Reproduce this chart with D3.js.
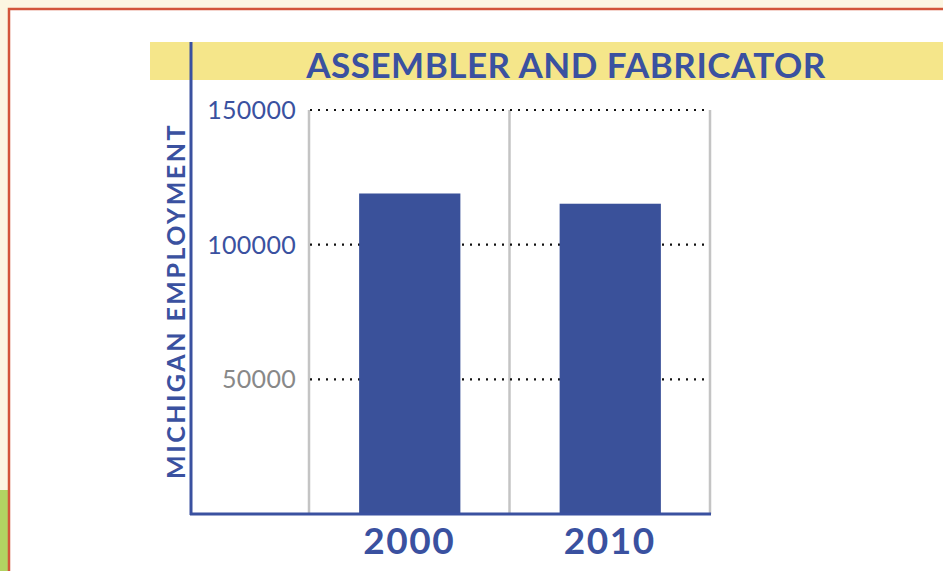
<!DOCTYPE html>
<html>
<head>
<meta charset="utf-8">
<script src="https://cdn.jsdelivr.net/npm/d3@7"></script>
<style>
  body { margin: 0; background: #fcf6e1; }
  svg { display: block; }
</style>
</head>
<body>
<div id="chart"></div>
<script>
// chart data
var years = ['2000', '2010'];
var employment = [119000, 115200];
var yTicks = [50000, 100000, 150000];
var tickColors = ['#888888', '#3a51a0', '#3a51a0'];

var W = 943, H = 571;
var blue = '#3a51a0';
var font = 'Lato, "Open Sans", sans-serif';

var svg = d3.select('#chart').append('svg')
    .attr('width', W)
    .attr('height', H);

// page frame
svg.append('rect').attr('x', 0).attr('y', 0).attr('width', W).attr('height', H).style('fill', '#fcf6e1');
svg.append('rect').attr('x', 0).attr('y', 490).attr('width', 9).attr('height', H - 490).style('fill', '#b2d362');
svg.append('rect').attr('x', 9).attr('y', 9).attr('width', W + 10).attr('height', H)
    .style('fill', '#ffffff').style('stroke', '#d2553a').style('stroke-width', 2.5);

// title band
svg.append('rect').attr('x', 150).attr('y', 42).attr('width', W - 150).attr('height', 38).style('fill', '#f5e68a');
svg.append('text')
    .attr('x', 566).attr('y', 78)
    .attr('text-anchor', 'middle')
    .style('font-family', font).style('font-weight', 'bold').style('font-size', '35px')
    .style('letter-spacing', '0.5px')
    .style('fill', blue)
    .text('ASSEMBLER AND FABRICATOR');

var x = d3.scaleBand().domain(years).range([309, 710]).padding(0);
var y = d3.scaleLinear().domain([0, 150000]).range([514, 110]);

// vertical gray grid at band edges
var edges = years.map(function(d) { return x(d); }).concat([x(years[years.length - 1]) + x.bandwidth()]);
svg.selectAll('.vgrid').data(edges).enter().append('line')
    .attr('class', 'vgrid')
    .attr('x1', function(d) { return d; }).attr('x2', function(d) { return d; })
    .attr('y1', y(150000)).attr('y2', y(0))
    .style('stroke', '#c4c4c4').style('stroke-width', 2.5);

// dotted horizontal grid
svg.selectAll('.hgrid').data(yTicks).enter().append('line')
    .attr('class', 'hgrid')
    .attr('x1', 310).attr('x2', 710)
    .attr('y1', function(d) { return y(d); }).attr('y2', function(d) { return y(d); })
    .style('stroke', '#111').style('stroke-width', 2.2)
    .style('stroke-dasharray', '2,6');

// bars
svg.selectAll('.bar').data(employment).enter().append('rect')
    .attr('class', 'bar')
    .attr('x', function(d, i) { return x(years[i]) + x.bandwidth() * 0.25; })
    .attr('width', x.bandwidth() * 0.505)
    .attr('y', function(d) { return y(d); })
    .attr('height', function(d) { return y(0) - y(d); })
    .style('fill', '#3a519a');

// tick labels
svg.selectAll('.ytick').data(yTicks).enter().append('text')
    .attr('class', 'ytick')
    .attr('x', 296)
    .attr('y', function(d) { return y(d) + 9; })
    .attr('text-anchor', 'end')
    .style('font-family', font).style('font-size', '25px')
    .style('letter-spacing', '0.3px')
    .style('fill', function(d, i) { return tickColors[i]; })
    .text(function(d) { return d; });

svg.selectAll('.xtick').data(years).enter().append('text')
    .attr('class', 'xtick')
    .attr('x', function(d) { return x(d) + x.bandwidth() / 2; })
    .attr('y', 554)
    .attr('text-anchor', 'middle')
    .style('font-family', font).style('font-weight', 'bold').style('font-size', '37px')
    .style('letter-spacing', '1.5px')
    .style('fill', blue)
    .text(function(d) { return d; });

// axes lines
svg.append('line').attr('x1', 191).attr('x2', 191).attr('y1', 42).attr('y2', 515)
    .style('stroke', blue).style('stroke-width', 3);
svg.append('line').attr('x1', 190).attr('x2', 711).attr('y1', 514).attr('y2', 514)
    .style('stroke', blue).style('stroke-width', 3);

// y axis title
svg.append('text')
    .attr('transform', 'translate(185,301) rotate(-90)')
    .attr('text-anchor', 'middle')
    .style('font-family', font).style('font-weight', 'bold').style('font-size', '25px')
    .style('letter-spacing', '2.5px')
    .style('fill', blue)
    .text('MICHIGAN EMPLOYMENT');
</script>
</body>
</html>
